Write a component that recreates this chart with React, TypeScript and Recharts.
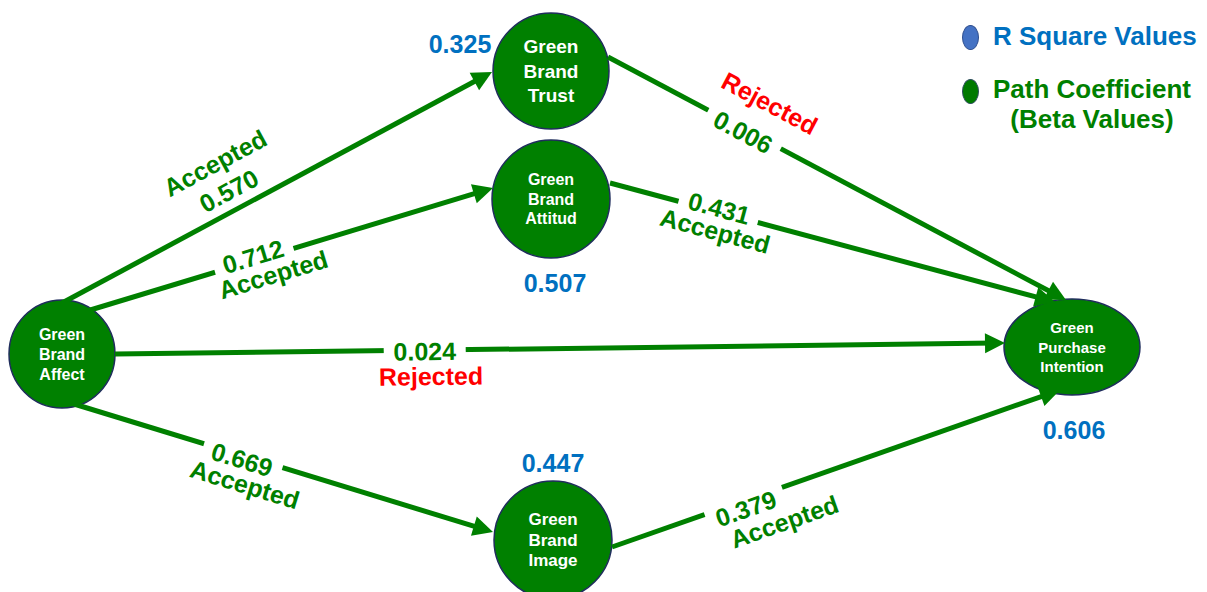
import { ScatterChart, Scatter, XAxis, YAxis } from "recharts"

const W = 1207
const H = 592
const FONT = "Arial, 'Liberation Sans', sans-serif"
const GREEN = "#008000"
const BLUE = "#0070C0"
const RED = "#FF0000"

// constructs of the model, placed in diagram units
const constructs = ["Green Brand Affect", "Green Brand Trust", "Green Brand Attitud", "Green Brand Image", "Green Purchase Intention"]
const constructX = [62, 551, 551, 553, 1072]
const constructY = [354, 71, 199, 540, 347]
const rSquare = [null, 0.325, 0.507, 0.447, 0.606]

// structural paths: where each arrow leaves and where its tip lands
const pathStart = [[62, 303], [87, 311], [115, 354], [74, 404], [608, 57], [610, 183], [612, 547]]
const pathEnd = [[492, 72], [493, 188], [1005, 343], [493, 532], [1066, 300], [1055, 302], [1060, 390]]
const pathBeta = [0.57, 0.712, 0.024, 0.669, 0.006, 0.431, 0.379]
const pathDecision = ["Accepted", "Accepted", "Rejected", "Accepted", "Rejected", "Accepted", "Accepted"]

// layout only: label spot along the arrow, offsets in px
const labelLayout = [
  { t: 0.41, vPerp: -20, dAlong: 1, dPerp: -51 },
  { t: 0.412, vPerp: -4, dAlong: 14, dPerp: 19 },
  { t: 0.348, vPerp: 1, dAlong: 6, dPerp: 26 },
  { t: 0.404, vPerp: 4, dAlong: 10, dPerp: 27 },
  { t: 0.298, vPerp: 3, dAlong: 10, dPerp: -35 },
  { t: 0.243, vPerp: -4, dAlong: 2, dPerp: 19 },
  { t: 0.293, vPerp: 8, dAlong: 32, dPerp: 33 },
]
const nodeStyle = [
  { rx: 53, ry: 54, font: 16, lh: 20 },
  { rx: 58, ry: 58, font: 19, lh: 24.5 },
  { rx: 59, ry: 59, font: 16, lh: 19.5 },
  { rx: 59, ry: 59, font: 17, lh: 20.5 },
  { rx: 68, ry: 48, font: 15, lh: 19.5 },
]
const r2Offset = [[0, 0], [-91, -27], [4, 84], [0, -77], [2, 83]]
const ARROW_LEN = 20
const ARROW_HALF = 10

const edges = pathBeta.map((beta, i) => {
  const [x1, y1] = pathStart[i]
  const [x2, y2] = pathEnd[i]
  const dx = x2 - x1
  const dy = y2 - y1
  const len = Math.hypot(dx, dy)
  const ux = dx / len
  const uy = dy / len
  return { i, x1, y1, x2, y2, ux, uy, len, beta, angle: (Math.atan2(dy, dx) * 180) / Math.PI }
})

const valueLabels = edges.map((e) => {
  const l = labelLayout[e.i]
  const nx = -e.uy
  const ny = e.ux
  const ax = e.x1 + e.ux * e.len * l.t
  const ay = e.y1 + e.uy * e.len * l.t
  return { x: ax + nx * l.vPerp, y: ay + ny * l.vPerp, text: e.beta.toFixed(3), color: GREEN, angle: e.angle, boxed: true }
})

const decisionLabels = edges.map((e) => {
  const l = labelLayout[e.i]
  const nx = -e.uy
  const ny = e.ux
  const ax = e.x1 + e.ux * (e.len * l.t + l.dAlong)
  const ay = e.y1 + e.uy * (e.len * l.t + l.dAlong)
  const text = pathDecision[e.i]
  return { x: ax + nx * l.dPerp, y: ay + ny * l.dPerp, text, color: text === "Rejected" ? RED : GREEN, angle: e.angle, boxed: false }
})

const nodeData = constructs.map((name, i) => ({ x: constructX[i], y: constructY[i], name, i }))

const r2Data = rSquare
  .map((v, i) => (v == null ? null : { x: constructX[i] + r2Offset[i][0], y: constructY[i] + r2Offset[i][1], v }))
  .filter((d) => d !== null)

const NodeShape = (props: any) => {
  const { cx, cy, payload } = props
  const s = nodeStyle[payload.i]
  const lines = payload.name.split(" ")
  return (
    <g>
      <ellipse cx={cx} cy={cy} rx={s.rx} ry={s.ry} fill={GREEN} stroke="#1F2D5C" strokeWidth={1.5} />
      {lines.map((ln: string, k: number) => (
        <text
          key={k}
          x={cx}
          y={cy + (k - (lines.length - 1) / 2) * s.lh}
          textAnchor="middle"
          dominantBaseline="central"
          fill="#fff"
          fontSize={s.font}
          fontWeight="bold"
          fontFamily={FONT}
        >
          {ln}
        </text>
      ))}
    </g>
  )
}

const ArrowHead = (props: any) => {
  const { cx, cy, payload } = props
  if (payload.kind !== "end") return <g />
  const { ux, uy } = payload
  const tx = cx + ux * 10
  const ty = cy + uy * 10
  const bx = tx - ux * ARROW_LEN
  const by = ty - uy * ARROW_LEN
  const nx = -uy
  const ny = ux
  return (
    <polygon
      points={`${tx},${ty} ${bx + nx * ARROW_HALF},${by + ny * ARROW_HALF} ${bx - nx * ARROW_HALF},${by - ny * ARROW_HALF}`}
      fill={GREEN}
    />
  )
}

const PathLabel = (props: any) => {
  const { cx, cy, payload } = props
  return (
    <g transform={`translate(${cx},${cy}) rotate(${payload.angle})`}>
      {payload.boxed && <rect x={-41} y={-12} width={82} height={24} fill="#fff" />}
      <text
        textAnchor="middle"
        dominantBaseline="central"
        fontSize={25}
        fontWeight="bold"
        fill={payload.color}
        fontFamily={FONT}
      >
        {payload.text}
      </text>
    </g>
  )
}

const R2Label = (props: any) => {
  const { cx, cy, payload } = props
  return (
    <text x={cx} y={cy} textAnchor="middle" dominantBaseline="central" fontSize={25} fontWeight="bold" fill={BLUE} fontFamily={FONT}>
      {payload.v.toFixed(3)}
    </text>
  )
}

export default function App() {
  return (
    <div style={{ position: "absolute", left: 0, top: 0, width: W, height: H, background: "#fff", fontFamily: FONT }}>
      <ScatterChart width={W} height={H} margin={{ top: 0, right: 0, bottom: 0, left: 0 }}>
        <XAxis type="number" dataKey="x" domain={[0, W]} hide allowDataOverflow />
        <YAxis type="number" dataKey="y" domain={[0, H]} reversed hide allowDataOverflow />
        <Scatter data={nodeData} shape={NodeShape} isAnimationActive={false} />
        {edges.map((e) => (
          <Scatter
            key={e.i}
            data={[
              { x: e.x1, y: e.y1, kind: "start" },
              { x: e.x2 - e.ux * 10, y: e.y2 - e.uy * 10, kind: "end", ux: e.ux, uy: e.uy },
            ]}
            line={{ stroke: GREEN, strokeWidth: 5 }}
            lineType="joint"
            fill={GREEN}
            shape={ArrowHead}
            isAnimationActive={false}
          />
        ))}
        <Scatter data={valueLabels} shape={PathLabel} isAnimationActive={false} />
        <Scatter data={decisionLabels} shape={PathLabel} isAnimationActive={false} />
        <Scatter data={r2Data} shape={R2Label} isAnimationActive={false} />
      </ScatterChart>

      {/* legend */}
      <div style={{ position: "absolute", left: 962, top: 25, width: 15, height: 23, borderRadius: "50%", background: "#4472C4", border: "1px solid #2F4F8F" }} />
      <div style={{ position: "absolute", left: 993, top: 22, fontSize: 26, lineHeight: "29px", fontWeight: "bold", color: BLUE, whiteSpace: "nowrap" }}>
        R Square Values
      </div>
      <div style={{ position: "absolute", left: 962, top: 79, width: 15, height: 23, borderRadius: "50%", background: "#007A00", border: "1px solid #2F4F5F" }} />
      <div style={{ position: "absolute", left: 986, top: 74, width: 212, textAlign: "center", fontSize: 26, lineHeight: "30px", fontWeight: "bold", color: GREEN, whiteSpace: "nowrap" }}>
        Path Coefficient
        <br />
        (Beta Values)
      </div>
    </div>
  )
}
